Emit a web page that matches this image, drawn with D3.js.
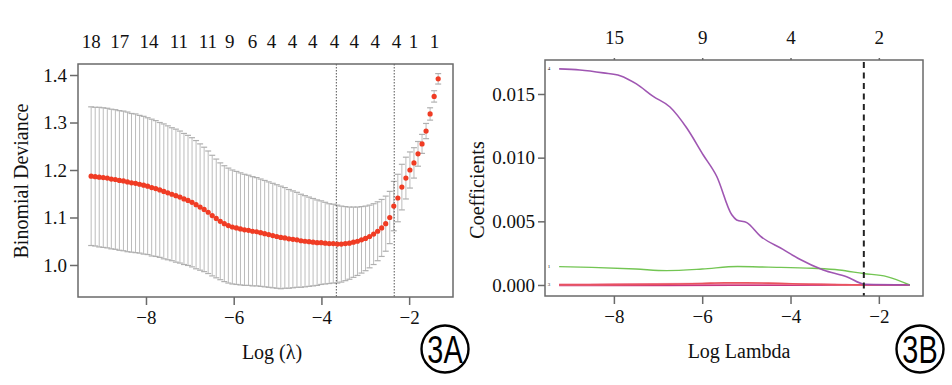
<!DOCTYPE html>
<html><head><meta charset="utf-8">
<script src="https://cdn.jsdelivr.net/npm/d3@7/dist/d3.min.js"></script>
<style>
html,body{margin:0;padding:0;background:#fff;}
svg text{font-family:"Liberation Serif","DejaVu Serif",serif;fill:#111;}
</style></head>
<body>
<svg id="chart" width="952" height="385"></svg>
<script>
// ---------- Panel A: cross-validation curve ----------
const logLambda = [-9.250,-9.158,-9.066,-8.974,-8.882,-8.790,-8.698,-8.606,-8.514,-8.422,
-8.330,-8.238,-8.146,-8.054,-7.962,-7.870,-7.778,-7.686,-7.594,-7.502,
-7.410,-7.318,-7.226,-7.134,-7.042,-6.950,-6.858,-6.766,-6.674,-6.582,
-6.490,-6.398,-6.306,-6.214,-6.122,-6.030,-5.938,-5.846,-5.754,-5.662,
-5.570,-5.478,-5.386,-5.294,-5.202,-5.110,-5.018,-4.926,-4.834,-4.742,
-4.650,-4.558,-4.466,-4.374,-4.282,-4.190,-4.098,-4.006,-3.914,-3.822,
-3.730,-3.638,-3.546,-3.454,-3.362,-3.270,-3.178,-3.086,-2.994,-2.902,
-2.810,-2.718,-2.626,-2.534,-2.442,-2.350,-2.258,-2.166,-2.074,-1.982,
-1.890,-1.798,-1.706,-1.614,-1.522,-1.430,-1.338];
const cvMean = [1.187,1.186,1.185,1.184,1.183,1.181,1.180,1.178,1.177,1.175,
1.173,1.172,1.170,1.168,1.166,1.163,1.161,1.158,1.155,1.152,
1.149,1.146,1.143,1.139,1.136,1.132,1.127,1.122,1.117,1.111,
1.104,1.098,1.092,1.087,1.083,1.080,1.078,1.076,1.074,1.073,
1.071,1.070,1.068,1.066,1.064,1.062,1.060,1.058,1.057,1.055,
1.054,1.053,1.051,1.050,1.049,1.048,1.047,1.047,1.046,1.045,
1.045,1.044,1.044,1.045,1.046,1.048,1.050,1.053,1.056,1.060,
1.065,1.071,1.078,1.087,1.100,1.124,1.141,1.164,1.183,1.200,
1.215,1.234,1.255,1.282,1.318,1.355,1.392];
const cvSE = [0.146,0.146,0.147,0.147,0.147,0.147,0.147,0.147,0.147,0.147,
0.146,0.146,0.145,0.145,0.144,0.144,0.143,0.142,0.142,0.141,
0.140,0.140,0.139,0.138,0.137,0.136,0.135,0.133,0.131,0.129,
0.127,0.125,0.123,0.122,0.121,0.120,0.119,0.118,0.117,0.116,
0.115,0.114,0.113,0.112,0.111,0.110,0.109,0.108,0.106,0.104,
0.102,0.100,0.098,0.096,0.094,0.092,0.090,0.088,0.086,0.084,
0.083,0.082,0.080,0.078,0.076,0.074,0.072,0.070,0.068,0.066,
0.064,0.062,0.060,0.058,0.055,0.052,0.050,0.048,0.044,0.038,
0.032,0.026,0.020,0.016,0.013,0.012,0.011];
const cvTopTicks = [-9.25,-8.6,-7.93,-7.25,-6.59,-6.09,-5.57,-5.14,-4.66,-4.20,-3.70,-3.25,-2.77,-2.29,-1.90,-1.42];
const cvTopLabels = ["18","17","14","11","11","9","6","4","4","4","4","4","4","4","1","1"];
const cvXTicks = [-8,-6,-4,-2];
const cvYTicks = [1.0,1.1,1.2,1.3,1.4];
const lambdaMin = -3.66, lambda1se = -2.34;

// ---------- Panel B: coefficient paths ----------
const pathLambda = {
  purple: [-9.24,-8.77,-8.24,-7.86,-7.49,-7.11,-6.73,-6.35,-5.98,-5.67,-5.33,-5.22,-4.99,-4.69,-4.17,-3.79,-3.26,-2.73,-2.31,-1.30],
  green:  [-9.24,-8.50,-7.50,-6.81,-6.00,-5.20,-4.50,-3.50,-2.90,-2.35,-1.82,-1.30],
  red:    [-9.24,-8.00,-7.00,-6.00,-5.50,-5.00,-4.50,-3.50,-2.50,-1.30],
  pink:   [-9.24,-8.00,-6.00,-4.50,-3.00,-2.30,-1.30],
  magenta:[-9.24,-7.00,-5.00,-3.00,-2.30,-1.30],
  violet: [-9.24,-6.00,-3.00,-1.30]
};
const coefPurple = [0.01697,0.01689,0.01666,0.01644,0.01579,0.01481,0.01398,0.01233,0.01023,0.00852,0.00551,0.00511,0.00490,0.00386,0.00280,0.00202,0.00118,0.00065,0.00005,0.0];
const coefGreen  = [0.00144,0.00138,0.00125,0.00113,0.00125,0.00145,0.00140,0.00131,0.00118,0.00090,0.00066,0.0];
const coefRed    = [0.00002,0.00003,0.00005,0.00012,0.00018,0.00017,0.00015,0.00006,0.00001,0.0];
const coefPink   = [0.00003,0.00005,0.00010,0.00010,0.00004,0.0,0.0];
const coefMagenta= [-0.00002,-0.00002,-0.00001,0.0,0.0,0.0];
const coefViolet = [0.0,0.00001,0.0,0.0];
const coefXTicks = [-8,-6,-4,-2];
const coefTopLabels = ["15","9","4","2"];
const coefYTicks = [0.000,0.005,0.010,0.015];
const coefStartLabels = ["4","1","3"];
const coefStartValues = [0.01697,0.00144,0.0];

const svg = d3.select("#chart");
const TICK_FS = 19, TITLE_FS = 20;

function badge(g, cx, cy, label){
  g.append("circle").attr("cx",cx).attr("cy",cy).attr("r",23.5).attr("fill","#fff").attr("stroke","#000").attr("stroke-width",2.4);
  g.append("text").attr("transform",`translate(${cx},${cy+14}) scale(0.74,1)`)
    .attr("text-anchor","middle").attr("font-size",39)
    .style("font-family","'Liberation Sans',Arial,sans-serif").style("fill","#000").text(label);
}

// ===== Panel A =====
const ax = d3.scaleLinear().domain([-9.55,-1.0]).range([78,453]);
const ay = d3.scaleLinear().domain([0.9326,1.4232]).range([297,64]);
const gA = svg.append("g");

const bars = gA.append("g");
logLambda.forEach((lx,i)=>{
  const x = ax(lx), y1 = ay(cvMean[i]+cvSE[i]), y2 = ay(cvMean[i]-cvSE[i]);
  bars.append("line").attr("x1",x).attr("x2",x).attr("y1",y1).attr("y2",y2)
    .attr("stroke","#bcbcbc").attr("stroke-width",1);
  [y1,y2].forEach(yy=>bars.append("line").attr("x1",x-3).attr("x2",x+3).attr("y1",yy).attr("y2",yy)
    .attr("stroke","#b0b0b0").attr("stroke-width",1.2));
});
[lambdaMin,lambda1se].forEach(v=>{
  gA.append("line").attr("x1",ax(v)).attr("x2",ax(v)).attr("y1",ay.range()[1]).attr("y2",ay.range()[0])
    .attr("stroke","#555").attr("stroke-width",1).attr("stroke-dasharray","1.5,1.5");
});
gA.append("g").selectAll("circle").data(logLambda).join("circle")
  .attr("cx",d=>ax(d)).attr("cy",(d,i)=>ay(cvMean[i])).attr("r",2.6)
  .attr("fill","#f03c24");
gA.append("rect").attr("x",78).attr("y",64).attr("width",375).attr("height",233)
  .attr("fill","none").attr("stroke","#6a6a6a").attr("stroke-width",1.5);
const axB = gA.append("g").attr("transform","translate(0,297)")
  .call(d3.axisBottom(ax).tickValues(cvXTicks).tickSize(8).tickPadding(6).tickFormat(d=>"\u2212"+Math.abs(d)));
const axL = gA.append("g").attr("transform","translate(78,0)")
  .call(d3.axisLeft(ay).tickValues(cvYTicks).tickSize(8).tickPadding(3).tickFormat(d3.format(".1f")));
[axB,axL].forEach(g=>{
  g.select(".domain").remove();
  g.selectAll(".tick line").attr("stroke","#6a6a6a").attr("stroke-width",1.5);
  g.selectAll("text").attr("font-size",TICK_FS).attr("font-family","Liberation Serif").attr("fill","#111");
});
gA.append("g").selectAll("text").data(cvTopTicks).join("text")
  .attr("x",d=>ax(d)).attr("y",48).attr("text-anchor","middle").attr("font-size",TICK_FS)
  .text((d,i)=>cvTopLabels[i]);
gA.append("text").attr("x",272).attr("y",359).attr("text-anchor","middle").attr("font-size",TITLE_FS).text("Log (\u03bb)");
gA.append("text").attr("transform","translate(28,181) rotate(-90)").attr("text-anchor","middle").attr("font-size",TITLE_FS).text("Binomial Deviance");
badge(gA, 445, 349, "3A");

// ===== Panel B =====
const bx = d3.scaleLinear().domain([-9.56,-1.0]).range([545,923]);
const by = d3.scaleLinear().domain([-0.000865,0.01767]).range([296,60]);
const gB = svg.append("g");
const line = d3.line().x(d=>bx(d[0])).y(d=>by(d[1])).curve(d3.curveMonotoneX);
const series = [
  {x:pathLambda.violet, y:coefViolet, c:"#8a5cc0", w:1.6},
  {x:pathLambda.magenta, y:coefMagenta, c:"#c8307c", w:1.8},
  {x:pathLambda.pink, y:coefPink, c:"#f08aa6", w:2},
  {x:pathLambda.red, y:coefRed, c:"#e8505a", w:1.6},
  {x:pathLambda.green, y:coefGreen, c:"#6cc24a", w:1.4},
  {x:pathLambda.purple, y:coefPurple, c:"#9a4dae", w:1.6}
];
series.forEach(s=>{
  gB.append("path").datum(s.x.map((v,i)=>[v,s.y[i]])).attr("d",line)
    .attr("fill","none").attr("stroke",s.c).attr("stroke-width",s.w).attr("stroke-opacity",0.95);
});
gB.append("line").attr("x1",bx(lambda1se)).attr("x2",bx(lambda1se)).attr("y1",62).attr("y2",296)
  .attr("stroke","#222").attr("stroke-width",2).attr("stroke-dasharray","6,4.5");
gB.append("g").selectAll("text").data(coefStartValues).join("text")
  .attr("x",549).attr("y",d=>by(d)+1.5).attr("font-size",5).attr("fill","#333").attr("text-anchor","middle")
  .text((d,i)=>coefStartLabels[i]);
gB.append("rect").attr("x",545).attr("y",60).attr("width",378).attr("height",236)
  .attr("fill","none").attr("stroke","#6a6a6a").attr("stroke-width",1.5);
const bxB = gB.append("g").attr("transform","translate(0,296)")
  .call(d3.axisBottom(bx).tickValues(coefXTicks).tickSize(8).tickPadding(6).tickFormat(d=>"\u2212"+Math.abs(d)));
const bxL = gB.append("g").attr("transform","translate(545,0)")
  .call(d3.axisLeft(by).tickValues(coefYTicks).tickSize(7).tickPadding(3).tickFormat(d3.format(".3f")));
const bxT = gB.append("g").attr("transform","translate(0,60)")
  .call(d3.axisTop(bx).tickValues(coefXTicks).tickSize(2).tickPadding(14).tickFormat((d,i)=>coefTopLabels[i]));
[bxB,bxL,bxT].forEach(g=>{
  g.select(".domain").remove();
  g.selectAll(".tick line").attr("stroke","#6a6a6a").attr("stroke-width",1.5);
  g.selectAll("text").attr("font-size",TICK_FS).attr("font-family","Liberation Serif").attr("fill","#111");
});
gB.append("text").attr("x",739).attr("y",358).attr("text-anchor","middle").attr("font-size",TITLE_FS).text("Log Lambda");
gB.append("text").attr("transform","translate(484,190) rotate(-90)").attr("text-anchor","middle").attr("font-size",TITLE_FS).text("Coefficients");
badge(gB, 920, 349, "3B");
</script>
</body></html>
